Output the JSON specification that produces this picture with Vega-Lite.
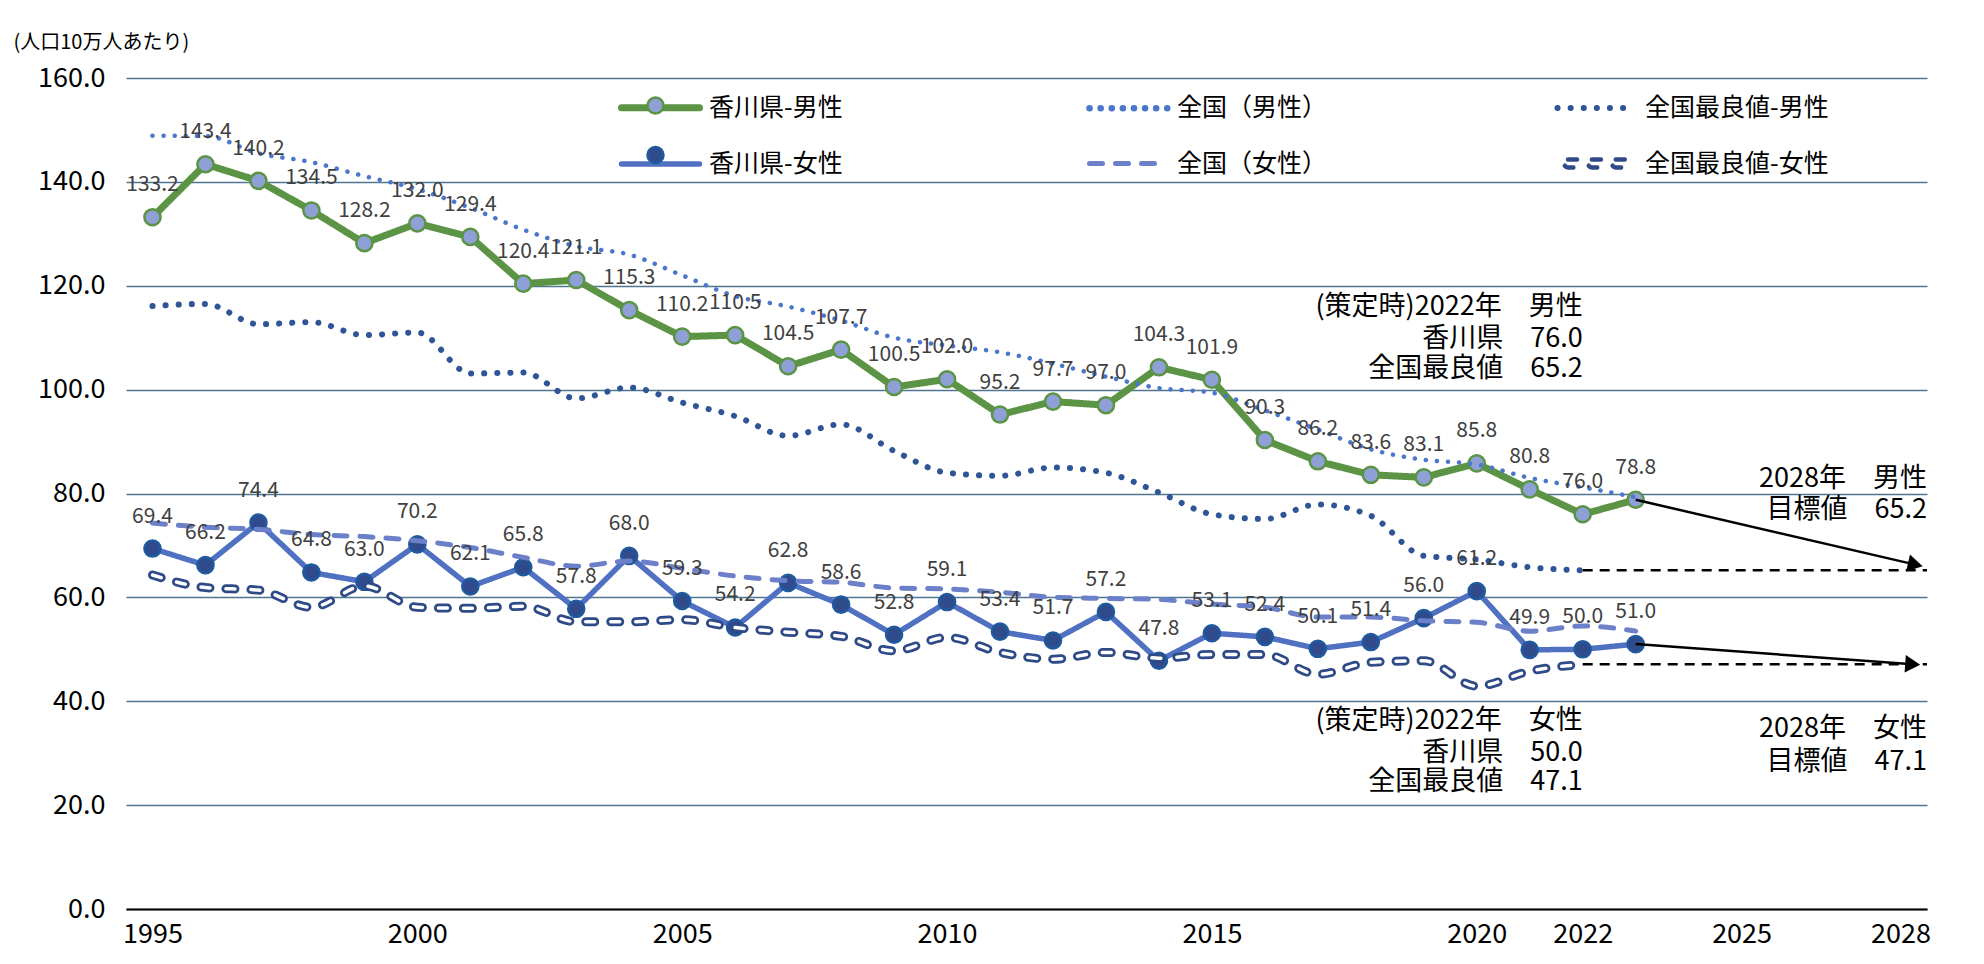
{
  "$schema": "https://vega.github.io/schema/vega-lite/v6.json",
  "width": 1801,
  "height": 831,
  "autosize": {"type": "none"},
  "padding": {"left": 126, "top": 78, "right": 57, "bottom": 55},
  "background": "white",
  "config": {"view": {"stroke": null}, "font": "Noto Sans CJK JP"},
  "datasets": {
    "main": [
      {"year":1995,"series":"香川県-男性","value":133.2},{"year":1996,"series":"香川県-男性","value":143.4},{"year":1997,"series":"香川県-男性","value":140.2},{"year":1998,"series":"香川県-男性","value":134.5},{"year":1999,"series":"香川県-男性","value":128.2},{"year":2000,"series":"香川県-男性","value":132.0},{"year":2001,"series":"香川県-男性","value":129.4},{"year":2002,"series":"香川県-男性","value":120.4},{"year":2003,"series":"香川県-男性","value":121.1},{"year":2004,"series":"香川県-男性","value":115.3},{"year":2005,"series":"香川県-男性","value":110.2},{"year":2006,"series":"香川県-男性","value":110.5},{"year":2007,"series":"香川県-男性","value":104.5},{"year":2008,"series":"香川県-男性","value":107.7},{"year":2009,"series":"香川県-男性","value":100.5},{"year":2010,"series":"香川県-男性","value":102.0},{"year":2011,"series":"香川県-男性","value":95.2},{"year":2012,"series":"香川県-男性","value":97.7},{"year":2013,"series":"香川県-男性","value":97.0},{"year":2014,"series":"香川県-男性","value":104.3},{"year":2015,"series":"香川県-男性","value":101.9},{"year":2016,"series":"香川県-男性","value":90.3},{"year":2017,"series":"香川県-男性","value":86.2},{"year":2018,"series":"香川県-男性","value":83.6},{"year":2019,"series":"香川県-男性","value":83.1},{"year":2020,"series":"香川県-男性","value":85.8},{"year":2021,"series":"香川県-男性","value":80.8},{"year":2022,"series":"香川県-男性","value":76.0},{"year":2023,"series":"香川県-男性","value":78.8},
      {"year":1995,"series":"香川県-女性","value":69.4},{"year":1996,"series":"香川県-女性","value":66.2},{"year":1997,"series":"香川県-女性","value":74.4},{"year":1998,"series":"香川県-女性","value":64.8},{"year":1999,"series":"香川県-女性","value":63.0},{"year":2000,"series":"香川県-女性","value":70.2},{"year":2001,"series":"香川県-女性","value":62.1},{"year":2002,"series":"香川県-女性","value":65.8},{"year":2003,"series":"香川県-女性","value":57.8},{"year":2004,"series":"香川県-女性","value":68.0},{"year":2005,"series":"香川県-女性","value":59.3},{"year":2006,"series":"香川県-女性","value":54.2},{"year":2007,"series":"香川県-女性","value":62.8},{"year":2008,"series":"香川県-女性","value":58.6},{"year":2009,"series":"香川県-女性","value":52.8},{"year":2010,"series":"香川県-女性","value":59.1},{"year":2011,"series":"香川県-女性","value":53.4},{"year":2012,"series":"香川県-女性","value":51.7},{"year":2013,"series":"香川県-女性","value":57.2},{"year":2014,"series":"香川県-女性","value":47.8},{"year":2015,"series":"香川県-女性","value":53.1},{"year":2016,"series":"香川県-女性","value":52.4},{"year":2017,"series":"香川県-女性","value":50.1},{"year":2018,"series":"香川県-女性","value":51.4},{"year":2019,"series":"香川県-女性","value":56.0},{"year":2020,"series":"香川県-女性","value":61.2},{"year":2021,"series":"香川県-女性","value":49.9},{"year":2022,"series":"香川県-女性","value":50.0},{"year":2023,"series":"香川県-女性","value":51.0},
      {"year":1995,"series":"全国（男性）","value":148.9},{"year":1996,"series":"全国（男性）","value":148.8},{"year":1997,"series":"全国（男性）","value":145.5},{"year":1998,"series":"全国（男性）","value":143.8},{"year":1999,"series":"全国（男性）","value":141.1},{"year":2000,"series":"全国（男性）","value":138.6},{"year":2001,"series":"全国（男性）","value":135.0},{"year":2002,"series":"全国（男性）","value":130.8},{"year":2003,"series":"全国（男性）","value":127.6},{"year":2004,"series":"全国（男性）","value":126.0},{"year":2005,"series":"全国（男性）","value":122.0},{"year":2006,"series":"全国（男性）","value":118.0},{"year":2007,"series":"全国（男性）","value":116.0},{"year":2008,"series":"全国（男性）","value":113.3},{"year":2009,"series":"全国（男性）","value":110.0},{"year":2010,"series":"全国（男性）","value":108.5},{"year":2011,"series":"全国（男性）","value":107.2},{"year":2012,"series":"全国（男性）","value":105.0},{"year":2013,"series":"全国（男性）","value":102.5},{"year":2014,"series":"全国（男性）","value":100.3},{"year":2015,"series":"全国（男性）","value":99.4},{"year":2016,"series":"全国（男性）","value":96.0},{"year":2017,"series":"全国（男性）","value":92.3},{"year":2018,"series":"全国（男性）","value":88.5},{"year":2019,"series":"全国（男性）","value":86.5},{"year":2020,"series":"全国（男性）","value":85.6},{"year":2021,"series":"全国（男性）","value":83.0},{"year":2022,"series":"全国（男性）","value":81.2},{"year":2023,"series":"全国（男性）","value":79.3},
      {"year":1995,"series":"全国最良値-男性","value":116.1},{"year":1996,"series":"全国最良値-男性","value":116.5},{"year":1997,"series":"全国最良値-男性","value":112.6},{"year":1998,"series":"全国最良値-男性","value":113.0},{"year":1999,"series":"全国最良値-男性","value":110.5},{"year":2000,"series":"全国最良値-男性","value":111.0},{"year":2001,"series":"全国最良値-男性","value":103.1},{"year":2002,"series":"全国最良値-男性","value":103.3},{"year":2003,"series":"全国最良値-男性","value":98.3},{"year":2004,"series":"全国最良値-男性","value":100.4},{"year":2005,"series":"全国最良値-男性","value":97.5},{"year":2006,"series":"全国最良値-男性","value":94.9},{"year":2007,"series":"全国最良値-男性","value":91.1},{"year":2008,"series":"全国最良値-男性","value":93.3},{"year":2009,"series":"全国最良値-男性","value":88.2},{"year":2010,"series":"全国最良値-男性","value":84.0},{"year":2011,"series":"全国最良値-男性","value":83.4},{"year":2012,"series":"全国最良値-男性","value":85.0},{"year":2013,"series":"全国最良値-男性","value":84.0},{"year":2014,"series":"全国最良値-男性","value":80.2},{"year":2015,"series":"全国最良値-男性","value":76.0},{"year":2016,"series":"全国最良値-男性","value":75.1},{"year":2017,"series":"全国最良値-男性","value":77.9},{"year":2018,"series":"全国最良値-男性","value":75.7},{"year":2019,"series":"全国最良値-男性","value":68.0},{"year":2020,"series":"全国最良値-男性","value":67.3},{"year":2021,"series":"全国最良値-男性","value":65.8},{"year":2022,"series":"全国最良値-男性","value":65.2},
      {"year":1995,"series":"全国（女性）","value":74.3},{"year":1996,"series":"全国（女性）","value":73.5},{"year":1997,"series":"全国（女性）","value":73.1},{"year":1998,"series":"全国（女性）","value":72.1},{"year":1999,"series":"全国（女性）","value":71.7},{"year":2000,"series":"全国（女性）","value":70.9},{"year":2001,"series":"全国（女性）","value":69.6},{"year":2002,"series":"全国（女性）","value":67.7},{"year":2003,"series":"全国（女性）","value":66.0},{"year":2004,"series":"全国（女性）","value":67.0},{"year":2005,"series":"全国（女性）","value":65.6},{"year":2006,"series":"全国（女性）","value":64.1},{"year":2007,"series":"全国（女性）","value":63.2},{"year":2008,"series":"全国（女性）","value":62.9},{"year":2009,"series":"全国（女性）","value":61.8},{"year":2010,"series":"全国（女性）","value":61.6},{"year":2011,"series":"全国（女性）","value":61.0},{"year":2012,"series":"全国（女性）","value":60.0},{"year":2013,"series":"全国（女性）","value":59.8},{"year":2014,"series":"全国（女性）","value":59.6},{"year":2015,"series":"全国（女性）","value":58.7},{"year":2016,"series":"全国（女性）","value":58.1},{"year":2017,"series":"全国（女性）","value":56.2},{"year":2018,"series":"全国（女性）","value":56.2},{"year":2019,"series":"全国（女性）","value":55.5},{"year":2020,"series":"全国（女性）","value":55.2},{"year":2021,"series":"全国（女性）","value":53.5},{"year":2022,"series":"全国（女性）","value":54.5},{"year":2023,"series":"全国（女性）","value":53.5},
      {"year":1995,"series":"全国最良値-女性","value":64.3},{"year":1996,"series":"全国最良値-女性","value":61.9},{"year":1997,"series":"全国最良値-女性","value":61.4},{"year":1998,"series":"全国最良値-女性","value":58.1},{"year":1999,"series":"全国最良値-女性","value":62.2},{"year":2000,"series":"全国最良値-女性","value":58.1},{"year":2001,"series":"全国最良値-女性","value":57.9},{"year":2002,"series":"全国最良値-女性","value":58.3},{"year":2003,"series":"全国最良値-女性","value":55.3},{"year":2004,"series":"全国最良値-女性","value":55.3},{"year":2005,"series":"全国最良値-女性","value":55.7},{"year":2006,"series":"全国最良値-女性","value":54.2},{"year":2007,"series":"全国最良値-女性","value":53.3},{"year":2008,"series":"全国最良値-女性","value":52.5},{"year":2009,"series":"全国最良値-女性","value":49.7},{"year":2010,"series":"全国最良値-女性","value":52.3},{"year":2011,"series":"全国最良値-女性","value":49.4},{"year":2012,"series":"全国最良値-女性","value":48.1},{"year":2013,"series":"全国最良値-女性","value":49.4},{"year":2014,"series":"全国最良値-女性","value":48.3},{"year":2015,"series":"全国最良値-女性","value":49.0},{"year":2016,"series":"全国最良値-女性","value":49.0},{"year":2017,"series":"全国最良値-女性","value":45.2},{"year":2018,"series":"全国最良値-女性","value":47.5},{"year":2019,"series":"全国最良値-女性","value":47.8},{"year":2020,"series":"全国最良値-女性","value":42.9},{"year":2021,"series":"全国最良値-女性","value":45.8},{"year":2022,"series":"全国最良値-女性","value":47.1}
    ],
    "notes": [
      {"year":2022,"value":115.9,"t":"(策定時)2022年　男性"},
      {"year":2022,"value":109.8,"t":"香川県　76.0"},
      {"year":2022,"value":104.0,"t":"全国最良値　65.2"},
      {"year":2028.5,"value":82.7,"t":"2028年　男性"},
      {"year":2028.5,"value":76.8,"t":"目標値　65.2"},
      {"year":2022,"value":36.2,"t":"(策定時)2022年　女性"},
      {"year":2022,"value":30.0,"t":"香川県　50.0"},
      {"year":2022,"value":24.4,"t":"全国最良値　47.1"},
      {"year":2028.5,"value":34.6,"t":"2028年　女性"},
      {"year":2028.5,"value":28.3,"t":"目標値　47.1"}
    ]
  },
  "layer": [
    {
      "data": {"name": "main"},
      "transform": [{"filter": "datum.series === '香川県-男性' || datum.series === '香川県-女性'"}],
      "mark": {"type": "line", "strokeCap": "round", "strokeJoin": "round", "opacity": 1},
      "encoding": {
        "x": {"field": "year", "type": "quantitative",
          "scale": {"domain": [1994.5, 2028.5], "nice": false, "zero": false},
          "axis": {"values": [1995, 2000, 2005, 2010, 2015, 2020, 2022, 2025, 2028], "format": "d", "grid": false, "ticks": false, "domain": true, "domainColor": "#000000", "domainWidth": 2, "labelFont": "Noto Sans CJK JP", "labelFontSize": 27, "labelColor": "#000000", "labelPadding": 12, "labelFlush": false, "title": null}},
        "y": {"field": "value", "type": "quantitative",
          "scale": {"domain": [0, 160], "nice": false, "zero": true},
          "axis": {"values": [0, 20, 40, 60, 80, 100, 120, 140, 160], "format": ".1f", "grid": true, "gridColor": "#4f7590", "gridWidth": 1.5, "domain": false, "ticks": false, "labelFont": "Noto Sans CJK JP", "labelFontSize": 27, "labelColor": "#000000", "labelPadding": 21, "title": "(人口10万人あたり)", "titleAngle": 0, "titleAlign": "left", "titleBaseline": "middle", "titleX": -113, "titleY": -36, "titleFont": "Noto Sans CJK JP", "titleFontSize": 20, "titleFontWeight": "normal", "titleColor": "#000000"}},
        "color": {"field": "series", "type": "nominal",
          "scale": {"domain": ["香川県-男性", "全国（男性）", "全国最良値-男性", "香川県-女性", "全国（女性）", "全国最良値-女性"], "range": ["#5a9444", "#4a76cc", "#2f5597", "#5071c2", "#6b80c8", "#2e4a87"]},
          "legend": {"orient": "none", "legendX": 492, "legendY": -13, "direction": "horizontal", "columns": 3, "gridAlign": "all", "columnPadding": 183, "rowPadding": -13.5, "title": null, "symbolType": "stroke", "symbolSize": 6084, "symbolOpacity": 1, "labelFont": "Noto Sans CJK JP", "labelFontSize": 25, "labelColor": "#000000", "labelOffset": 6, "labelLimit": 400, "padding": 0,
            "encode": {"symbols": {"update": {
              "shape": {"signal": "datum.value === '全国最良値-女性' ? 'M-0.73,-0.1H-0.494A0.1,0.1 0 0 1 -0.494,0.1H-0.73A0.1,0.1 0 0 1 -0.73,-0.1ZM-0.118,-0.1H0.118A0.1,0.1 0 0 1 0.118,0.1H-0.118A0.1,0.1 0 0 1 -0.118,-0.1ZM0.494,-0.1H0.73A0.1,0.1 0 0 1 0.73,0.1H0.494A0.1,0.1 0 0 1 0.494,-0.1Z' : 'stroke'"},
              "fill": {"signal": "datum.value === '全国最良値-女性' ? '#ffffff' : 'transparent'"},
              "strokeWidth": {"signal": "datum.value === '全国（男性）' ? 4.5 : datum.value === '全国最良値-男性' ? 6 : datum.value === '全国（女性）' ? 5 : datum.value === '全国最良値-女性' ? 2.5 : 7"},
              "strokeDash": {"signal": "datum.value === '全国（男性）' ? [0.1, 10] : datum.value === '全国最良値-男性' ? [0.1, 12] : datum.value === '全国（女性）' ? [13, 13] : [1, 0]"},
              "strokeCap": {"value": "round"},
              "opacity": {"value": 1}
            }}}}},
        "strokeDash": {"field": "series", "type": "nominal",
          "scale": {"domain": ["香川県-男性", "全国（男性）", "全国最良値-男性", "香川県-女性", "全国（女性）", "全国最良値-女性"], "range": [[1, 0], [0.1, 11], [0.1, 13], [1, 0], [13, 13], [9, 16]]},
          "legend": null},
        "strokeWidth": {"field": "series", "type": "nominal",
          "scale": {"domain": ["香川県-男性", "全国（男性）", "全国最良値-男性", "香川県-女性", "全国（女性）", "全国最良値-女性"], "range": [7, 4.5, 6, 7, 5, 9]},
          "legend": null}
      }
    },
    {
      "data": {"name": "main"},
      "transform": [{"filter": "datum.series === '香川県-男性' || datum.series === '香川県-女性'"}],
      "mark": {"type": "point", "filled": true, "size": 260, "strokeWidth": 2.5, "opacity": 1},
      "encoding": {
        "x": {"field": "year", "type": "quantitative"},
        "y": {"field": "value", "type": "quantitative"},
        "fill": {"field": "series", "type": "nominal",
          "scale": {"domain": ["香川県-男性", "香川県-女性"], "range": ["#8fa0d6", "#2f4b8c"]},
          "legend": {"orient": "none", "legendX": 520, "legendY": 18, "direction": "vertical", "columns": 1, "rowPadding": 22.5, "title": null, "symbolType": "circle", "symbolSize": 256, "symbolStrokeWidth": 2.5, "symbolOpacity": 1, "labelExpr": "''", "labelFontSize": 1, "labelOffset": 0, "padding": 0, "zindex": 2,
            "encode": {"symbols": {"update": {"stroke": {"signal": "datum.value === '香川県-男性' ? '#5a9444' : '#1f5a9e'"}}}}}},
        "stroke": {"field": "series", "type": "nominal",
          "scale": {"domain": ["香川県-男性", "香川県-女性"], "range": ["#5a9444", "#1f5a9e"]},
          "legend": null}
      }
    },
    {
      "data": {"name": "main"},
      "transform": [{"filter": "datum.series === '全国（男性）'"}],
      "mark": {"type": "line", "interpolate": "monotone", "strokeCap": "round", "color": "#4a76cc", "strokeWidth": 4.5, "strokeDash": [0.1, 11], "opacity": 1},
      "encoding": {"x": {"field": "year", "type": "quantitative"}, "y": {"field": "value", "type": "quantitative"}}
    },
    {
      "data": {"name": "main"},
      "transform": [{"filter": "datum.series === '全国最良値-男性'"}],
      "mark": {"type": "line", "interpolate": "monotone", "strokeCap": "round", "color": "#2f5597", "strokeWidth": 6, "strokeDash": [0.1, 13], "opacity": 1},
      "encoding": {"x": {"field": "year", "type": "quantitative"}, "y": {"field": "value", "type": "quantitative"}}
    },
    {
      "data": {"name": "main"},
      "transform": [{"filter": "datum.series === '全国（女性）'"}],
      "mark": {"type": "line", "interpolate": "monotone", "strokeCap": "round", "color": "#6b80c8", "strokeWidth": 5, "strokeDash": [13, 13], "opacity": 1},
      "encoding": {"x": {"field": "year", "type": "quantitative"}, "y": {"field": "value", "type": "quantitative"}}
    },
    {
      "data": {"name": "main"},
      "transform": [{"filter": "datum.series === '全国最良値-女性'"}],
      "mark": {"type": "line", "interpolate": "monotone", "strokeCap": "round", "strokeJoin": "round", "color": "#2e4a87", "strokeWidth": 9, "strokeDash": [9, 16], "opacity": 1},
      "encoding": {"x": {"field": "year", "type": "quantitative"}, "y": {"field": "value", "type": "quantitative"}}
    },
    {
      "data": {"name": "main"},
      "transform": [{"filter": "datum.series === '全国最良値-女性'"}],
      "mark": {"type": "line", "interpolate": "monotone", "strokeCap": "round", "strokeJoin": "round", "color": "#ffffff", "strokeWidth": 3.5, "strokeDash": [9, 16], "opacity": 1},
      "encoding": {"x": {"field": "year", "type": "quantitative"}, "y": {"field": "value", "type": "quantitative"}}
    },
    {
      "data": {"name": "main"},
      "transform": [{"filter": "datum.series === '香川県-男性' || datum.series === '香川県-女性'"}],
      "mark": {"type": "text", "dy": -32, "baseline": "middle", "align": "center", "font": "Noto Sans CJK JP", "fontSize": 21, "color": "#404040"},
      "encoding": {
        "x": {"field": "year", "type": "quantitative"},
        "y": {"field": "value", "type": "quantitative"},
        "text": {"field": "value", "type": "quantitative", "format": ".1f"}
      }
    },
    {
      "data": {"values": [{"year": 2022, "year2": 2028.5, "value": 65.2}, {"year": 2022, "year2": 2028.5, "value": 47.1}]},
      "mark": {"type": "rule", "color": "#000000", "strokeWidth": 2.5, "strokeDash": [10, 7]},
      "encoding": {
        "x": {"field": "year", "type": "quantitative"},
        "x2": {"field": "year2"},
        "y": {"field": "value", "type": "quantitative"}
      }
    },
    {
      "data": {"values": [{"year": 2023, "value": 78.8, "year2": 2028.28, "value2": 66.3}, {"year": 2023, "value": 51.0, "year2": 2028.23, "value2": 47.12}]},
      "mark": {"type": "rule", "color": "#000000", "strokeWidth": 2.5},
      "encoding": {
        "x": {"field": "year", "type": "quantitative"},
        "x2": {"field": "year2"},
        "y": {"field": "value", "type": "quantitative"},
        "y2": {"field": "value2"}
      }
    },
    {
      "data": {"values": [{"year": 2028.28, "value": 66.3}]},
      "mark": {"type": "point", "shape": "triangle-right", "filled": true, "size": 300, "angle": 13, "color": "#000000", "opacity": 1},
      "encoding": {
        "x": {"field": "year", "type": "quantitative"},
        "y": {"field": "value", "type": "quantitative"}
      }
    },
    {
      "data": {"values": [{"year": 2028.23, "value": 47.12}]},
      "mark": {"type": "point", "shape": "triangle-right", "filled": true, "size": 300, "angle": 4, "color": "#000000", "opacity": 1},
      "encoding": {
        "x": {"field": "year", "type": "quantitative"},
        "y": {"field": "value", "type": "quantitative"}
      }
    },
    {
      "data": {"name": "notes"},
      "mark": {"type": "text", "align": "right", "baseline": "middle", "font": "Noto Sans CJK JP", "fontSize": 27, "color": "#000000"},
      "encoding": {
        "x": {"field": "year", "type": "quantitative"},
        "y": {"field": "value", "type": "quantitative"},
        "text": {"field": "t", "type": "nominal"}
      }
    }
  ]
}
